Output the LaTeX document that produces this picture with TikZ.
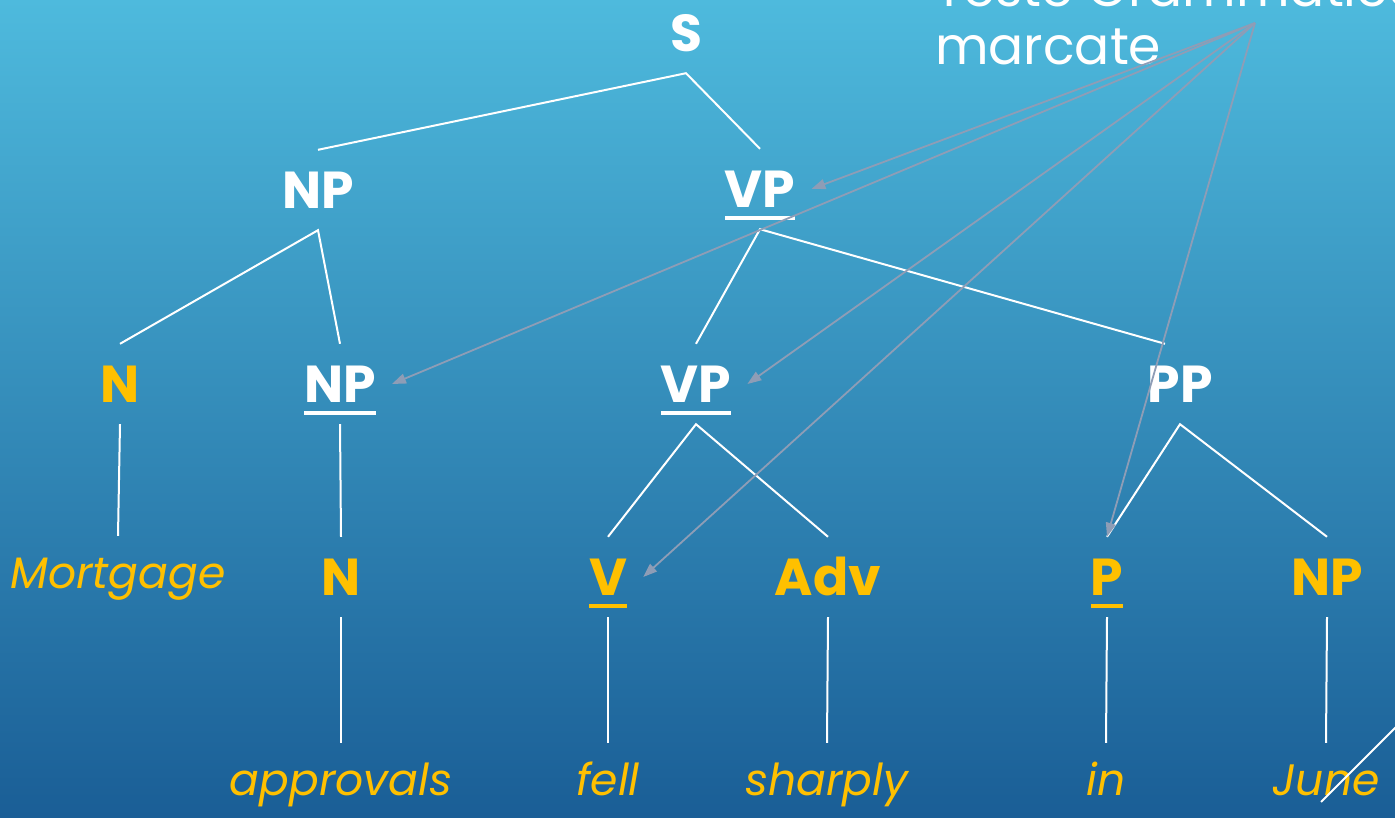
\documentclass[tikz,border=0pt]{standalone}
\usepackage{fontspec}
\setmainfont{Poppins}
\usetikzlibrary{arrows.meta}
\definecolor{gold}{HTML}{FFC000}
\definecolor{topblue}{HTML}{4EBADD}
\definecolor{midblue}{HTML}{3597C5}
\definecolor{lowblue}{HTML}{1A5E96}
\definecolor{pointgray}{HTML}{8E9DB6}
\newcommand\uline[1]{\setbox0=\hbox{#1}\rlap{\rule[-12pt]{\wd0}{4pt}}\box0}

\begin{document}
\begin{tikzpicture}[x=1pt,y=-1pt,
    cat/.style={font=\bfseries\fontsize{52}{60}\selectfont, text=white, text height=37pt, text depth=0pt,
                inner xsep=16pt, inner ysep=0pt, minimum height=80pt},
    head/.style={cat, text=gold},
    word/.style={font=\itshape\fontsize{44}{52}\selectfont, text=gold, text height=40pt, text depth=10pt,
                 inner ysep=12pt, anchor=base},
    branch/.style={draw=white, line width=2pt},
    pointer/.style={draw=pointgray, line width=1.8pt, -{Triangle[length=14pt,width=10pt]}}]
    \useasboundingbox (0,0) rectangle (1395,817);
    \shade[top color=topblue, middle color=midblue, bottom color=lowblue] (0,0) rectangle (1395,817);

    % categories
    \node [cat] (S) at (686,33) {S};
    \node [cat] (NPa) at (318,190) {NP};
    \node [cat] (VPa) at (760,189) {\uline{VP}};
    \node [head] (Na) at (120,384) {N};
    \node [cat] (NPb) at (340,384) {\uline{NP}};
    \node [cat] (VPb) at (696,384) {\uline{VP}};
    \node [cat] (PP) at (1180,384) {PP};
    \node [head] (Nb) at (341,577) {N};
    \node [head] (V) at (608,577) {\uline{V}};
    \node [head] (Adv) at (828,577) {Adv};
    \node [head] (P) at (1107,577) {\uline{P}};
    \node [head] (NPc) at (1327,577) {NP};

    % words
    \node [word] (w1) at (118,588) {Mortgage};
    \node [word] (w2) at (341,795) {approvals};
    \node [word] (w3) at (608,795) {fell};
    \node [word] (w4) at (827,795) {sharply};
    \node [word] (w5) at (1106,795) {in};
    \node [word] (w6) at (1326,795) {June};

    % branches
    \draw [branch] (NPa.north) -- (S.south) -- (VPa.north);
    \draw [branch] (Na.north) -- (NPa.south) -- (NPb.north);
    \draw [branch] (VPb.north) -- (VPa.south) -- ([xshift=-15pt]PP.north);
    \draw [branch] (V.north) -- (VPb.south) -- (Adv.north);
    \draw [branch] (P.north) -- (PP.south) -- (NPc.north);
    \draw [branch] (Na.south) -- (w1.north);
    \draw [branch] (NPb.south) -- (Nb.north);
    \draw [branch] (Nb.south) -- (w2.north);
    \draw [branch] (V.south) -- (w3.north);
    \draw [branch] (Adv.south) -- (w4.north);
    \draw [branch] (P.south) -- (w5.north);
    \draw [branch] (NPc.south) -- (w6.north);
    \draw [branch] (1321,802) -- (1400,723);

    % marked heads
    \node [font=\fontsize{52}{58}\selectfont, text=white, align=left, anchor=south west, inner sep=0pt]
        (title) at (935,65) {Teste Grammaticali\\marcate};
    \coordinate (src) at (1255,23);
    \draw [pointer] (src) -- (VPa.east);
    \draw [pointer] (src) -- (NPb.east);
    \draw [pointer] (src) -- (VPb.east);
    \draw [pointer] (src) -- (V.east);
    \draw [pointer] (src) -- (P.north);
\end{tikzpicture}
\end{document}
